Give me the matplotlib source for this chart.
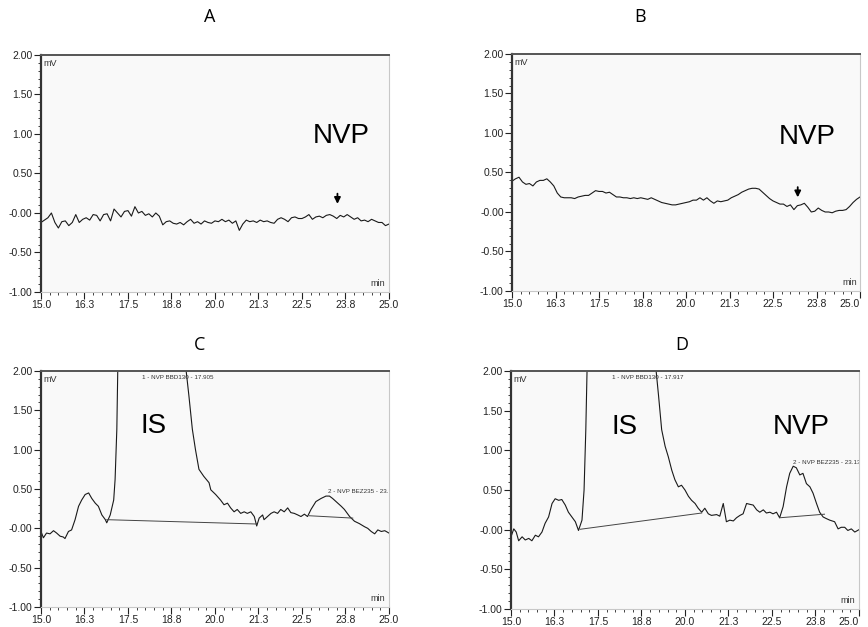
import matplotlib.pyplot as plt
from matplotlib.ticker import MultipleLocator, FixedLocator, FixedFormatter

plt.rcParams['font.family'] = ['Liberation Sans', 'DejaVu Sans']

# ---- data ----
# A and B are sampled every 0.1 min from 15.0 to 25.0
time_ab = [15.0 + 0.1 * i for i in range(101)]

signal_a = [-0.12, -0.09, -0.06, 0.00, -0.12, -0.19, -0.11, -0.10, -0.16, -0.12,
            -0.02, -0.12, -0.08, -0.06, -0.09, -0.02, -0.03, -0.10, -0.02, -0.01,
            -0.10, 0.05, 0.00, -0.05, 0.02, 0.03, -0.04, 0.08, 0.00, 0.02,
            -0.03, -0.01, -0.05, 0.00, -0.04, -0.15, -0.11, -0.10, -0.13, -0.14,
            -0.12, -0.15, -0.11, -0.08, -0.13, -0.11, -0.14, -0.10, -0.12, -0.13,
            -0.10, -0.11, -0.08, -0.11, -0.09, -0.13, -0.10, -0.22, -0.14, -0.09,
            -0.11, -0.10, -0.12, -0.09, -0.11, -0.10, -0.12, -0.13, -0.08, -0.06,
            -0.08, -0.11, -0.06, -0.05, -0.07, -0.07, -0.05, -0.02, -0.08, -0.05,
            -0.04, -0.06, -0.03, -0.02, -0.04, -0.07, -0.03, -0.05, -0.02, -0.05,
            -0.08, -0.06, -0.10, -0.09, -0.11, -0.08, -0.10, -0.12, -0.12, -0.16,
            -0.14]

signal_b = [0.39, 0.42, 0.44, 0.38, 0.35, 0.36, 0.33, 0.38, 0.40, 0.40,
            0.42, 0.38, 0.33, 0.24, 0.19, 0.18, 0.18, 0.18, 0.17, 0.19,
            0.20, 0.21, 0.21, 0.24, 0.27, 0.26, 0.26, 0.24, 0.25, 0.22,
            0.19, 0.19, 0.18, 0.18, 0.17, 0.18, 0.17, 0.18, 0.17, 0.16,
            0.18, 0.16, 0.14, 0.12, 0.11, 0.10, 0.09, 0.09, 0.10, 0.11,
            0.12, 0.13, 0.15, 0.15, 0.18, 0.15, 0.18, 0.14, 0.11, 0.14,
            0.13, 0.14, 0.15, 0.18, 0.20, 0.22, 0.25, 0.27, 0.29, 0.30,
            0.30, 0.29, 0.25, 0.21, 0.17, 0.14, 0.12, 0.10, 0.10, 0.07,
            0.09, 0.03, 0.08, 0.09, 0.11, 0.06, 0.00, 0.01, 0.05, 0.02,
            0.00, 0.00, -0.01, 0.01, 0.02, 0.02, 0.03, 0.07, 0.12, 0.16,
            0.19]

time_c = [15.00, 15.07, 15.16, 15.26, 15.36, 15.45, 15.55, 15.64, 15.69, 15.79,
          15.88, 15.98, 16.08, 16.17, 16.27, 16.37, 16.46, 16.56, 16.65, 16.75,
          16.85, 16.89, 16.99, 17.09, 17.13, 17.18, 17.21, 17.90, 19.16, 19.25,
          19.35, 19.44, 19.54, 19.68, 19.83, 19.88, 20.02, 20.16, 20.26, 20.36,
          20.45, 20.55, 20.64, 20.74, 20.84, 20.93, 21.03, 21.13, 21.20, 21.27,
          21.37, 21.41, 21.51, 21.61, 21.70, 21.80, 21.89, 21.99, 22.09, 22.18,
          22.28, 22.38, 22.47, 22.57, 22.66, 22.76, 22.90, 23.05, 23.19, 23.29,
          23.38, 23.48, 23.63, 23.72, 23.87, 24.01, 24.15, 24.30, 24.39, 24.49,
          24.59, 24.68, 24.78, 24.88, 25.00]
signal_c = [-0.04, -0.12, -0.06, -0.07, -0.03, -0.06, -0.10, -0.11, -0.13, -0.04,
            -0.02, 0.11, 0.28, 0.36, 0.43, 0.45, 0.38, 0.32, 0.28, 0.17,
            0.11, 0.07, 0.17, 0.36, 0.62, 1.26, 2.10, 9.00, 2.05, 1.69,
            1.26, 1.00, 0.75, 0.66, 0.58, 0.49, 0.43, 0.36, 0.30, 0.32,
            0.26, 0.21, 0.24, 0.19, 0.21, 0.19, 0.21, 0.15, 0.03, 0.13,
            0.17, 0.11, 0.15, 0.19, 0.21, 0.19, 0.24, 0.21, 0.26, 0.20,
            0.19, 0.17, 0.15, 0.18, 0.15, 0.24, 0.34, 0.38, 0.41, 0.41,
            0.38, 0.34, 0.28, 0.24, 0.15, 0.09, 0.06, 0.02, 0.00, -0.04,
            -0.07, -0.02, -0.04, -0.03, -0.06]

time_d = [15.00, 15.08, 15.15, 15.22, 15.32, 15.41, 15.51, 15.60, 15.70, 15.79,
          15.89, 15.98, 16.08, 16.18, 16.27, 16.37, 16.46, 16.56, 16.65, 16.75,
          16.85, 16.94, 17.04, 17.10, 17.15, 17.19, 17.90, 19.16, 19.24, 19.33,
          19.43, 19.52, 19.62, 19.71, 19.81, 19.90, 20.00, 20.10, 20.19, 20.29,
          20.38, 20.48, 20.57, 20.67, 20.76, 20.91, 21.00, 21.10, 21.19, 21.29,
          21.39, 21.48, 21.58, 21.67, 21.77, 21.86, 21.96, 22.06, 22.15, 22.25,
          22.34, 22.44, 22.53, 22.63, 22.72, 22.82, 22.92, 23.01, 23.11, 23.20,
          23.30, 23.39, 23.49, 23.59, 23.68, 23.78, 23.87, 23.97, 24.06, 24.16,
          24.30, 24.40, 24.49, 24.59, 24.68, 24.78, 24.88, 25.00]
signal_d = [-0.09, 0.01, -0.03, -0.14, -0.09, -0.13, -0.11, -0.14, -0.07, -0.09,
            -0.03, 0.08, 0.16, 0.33, 0.39, 0.37, 0.38, 0.31, 0.22, 0.16,
            0.10, -0.01, 0.12, 0.50, 1.26, 2.10, 9.00, 2.05, 1.69, 1.26,
            1.05, 0.92, 0.75, 0.63, 0.54, 0.56, 0.50, 0.42, 0.37, 0.33,
            0.27, 0.22, 0.27, 0.20, 0.18, 0.19, 0.17, 0.33, 0.10, 0.12,
            0.11, 0.15, 0.18, 0.20, 0.33, 0.32, 0.31, 0.25, 0.22, 0.25,
            0.21, 0.22, 0.20, 0.22, 0.15, 0.29, 0.54, 0.71, 0.80, 0.78,
            0.69, 0.71, 0.58, 0.54, 0.46, 0.33, 0.22, 0.16, 0.14, 0.12,
            0.10, 0.01, 0.03, 0.03, -0.01, 0.01, -0.03, 0.00]

# integration baselines: (t_start, v_start, t_end, v_end)
baselines_c = [(16.89, 0.11, 21.20, 0.055), (22.71, 0.16, 23.96, 0.13)]
baselines_d = [(16.99, 0.005, 20.48, 0.21), (22.72, 0.15, 24.01, 0.195)]

peak_labels_c = [(17.90, 1.92, '1 - NVP BBD130 - 17.905'), (23.24, 0.47, '2 - NVP BEZ235 - 23.1')]
peak_labels_d = [(17.90, 1.92, '1 - NVP BBD130 - 17.917'), (23.10, 0.85, '2 - NVP BEZ235 - 23.13')]

xtick_pos = [15.0, 16.25, 17.5, 18.75, 20.0, 21.25, 22.5, 23.75, 25.0]
xtick_lbl = ['15.0', '16.3', '17.5', '18.8', '20.0', '21.3', '22.5', '23.8', '25.0']
ytick_pos = [-1.0, -0.5, 0.0, 0.5, 1.0, 1.5, 2.0]
ytick_lbl = ['-1.00', '-0.50', '-0.00', '0.50', '1.00', '1.50', '2.00']


def chrom_axes(rect):
    ax = fig.add_axes(rect)
    ax.set_facecolor('#f9f9f9')
    ax.set_xlim(15, 25)
    ax.set_ylim(-1, 2)
    ax.xaxis.set_major_locator(FixedLocator(xtick_pos))
    ax.xaxis.set_major_formatter(FixedFormatter(xtick_lbl))
    ax.xaxis.set_minor_locator(MultipleLocator(0.25))
    ax.yaxis.set_major_locator(FixedLocator(ytick_pos))
    ax.yaxis.set_major_formatter(FixedFormatter(ytick_lbl))
    ax.yaxis.set_minor_locator(MultipleLocator(0.1))
    ax.tick_params(which='major', length=5, width=0.8, labelsize=7.5,
                   colors='#222222', pad=1)
    ax.tick_params(which='minor', length=2.5, width=0.6, colors='#222222')
    for side in ['right', 'bottom']:
        ax.spines[side].set_color('#c8c8c8')
        ax.spines[side].set_linewidth(0.8)
    ax.spines['top'].set_color('#555555')
    ax.spines['top'].set_linewidth(1.4)
    ax.spines['left'].set_color('#333333')
    ax.spines['left'].set_linewidth(1.6)
    ax.text(0.008, 0.985, 'mV', transform=ax.transAxes, fontsize=6.5,
            ha='left', va='top', color='#333333')
    ax.text(0.99, 0.015, 'min', transform=ax.transAxes, fontsize=6.5,
            ha='right', va='bottom', color='#333333')
    return ax


fig = plt.figure(figsize=(8.68, 6.27), dpi=100)

ax_a = chrom_axes([0.0472, 0.5343, 0.4009, 0.378])
ax_b = chrom_axes([0.5899, 0.5359, 0.4009, 0.378])
ax_c = chrom_axes([0.0472, 0.0319, 0.4009, 0.3764])
ax_d = chrom_axes([0.5887, 0.0287, 0.4009, 0.3796])

# right-hand panels sit at the image edge, so their last label is pulled in
for ax in [ax_b, ax_d]:
    ax.get_xticklabels()[-1].set_horizontalalignment('right')

ax_a.plot(time_ab, signal_a, color='#1a1a1a', lw=0.8)
ax_b.plot(time_ab, signal_b, color='#1a1a1a', lw=0.8)
ax_c.plot(time_c, signal_c, color='#1a1a1a', lw=0.8)
ax_d.plot(time_d, signal_d, color='#1a1a1a', lw=0.8)

# arrows pointing at the NVP position in blanks
ax_a.annotate('', xy=(23.52, 0.08), xytext=(23.52, 0.28),
              arrowprops=dict(arrowstyle='-|>', color='black', lw=1.3, mutation_scale=9))
ax_b.annotate('', xy=(23.21, 0.15), xytext=(23.21, 0.35),
              arrowprops=dict(arrowstyle='-|>', color='black', lw=1.3, mutation_scale=9))

for ax, lines in [(ax_c, baselines_c), (ax_d, baselines_d)]:
    for t0, v0, t1, v1 in lines:
        ax.plot([t0, t1], [v0, v1], color='#444444', lw=0.7)

for ax, labels in [(ax_c, peak_labels_c), (ax_d, peak_labels_d)]:
    for t, v, s in labels:
        ax.text(t, v, s, fontsize=4.5, ha='left', va='center', color='#333333',
                clip_on=True)

ax_a.text(23.63, 0.97, 'NVP', fontsize=20, ha='center', va='center')
ax_b.text(23.49, 0.95, 'NVP', fontsize=20, ha='center', va='center')
ax_c.text(18.24, 1.30, 'IS', fontsize=20, ha='center', va='center')
ax_d.text(18.25, 1.30, 'IS', fontsize=20, ha='center', va='center')
ax_d.text(23.35, 1.30, 'NVP', fontsize=20, ha='center', va='center')

for x, y, s in [(210, 17, 'A'), (640, 17, 'B'), (200, 345, 'C'), (682, 345, 'D')]:
    fig.text(x / 868, 1 - y / 627, s, fontsize=13, ha='center', va='center',
             family=['Open Sans', 'DejaVu Sans'])

fig.savefig('out.png', dpi=100)
